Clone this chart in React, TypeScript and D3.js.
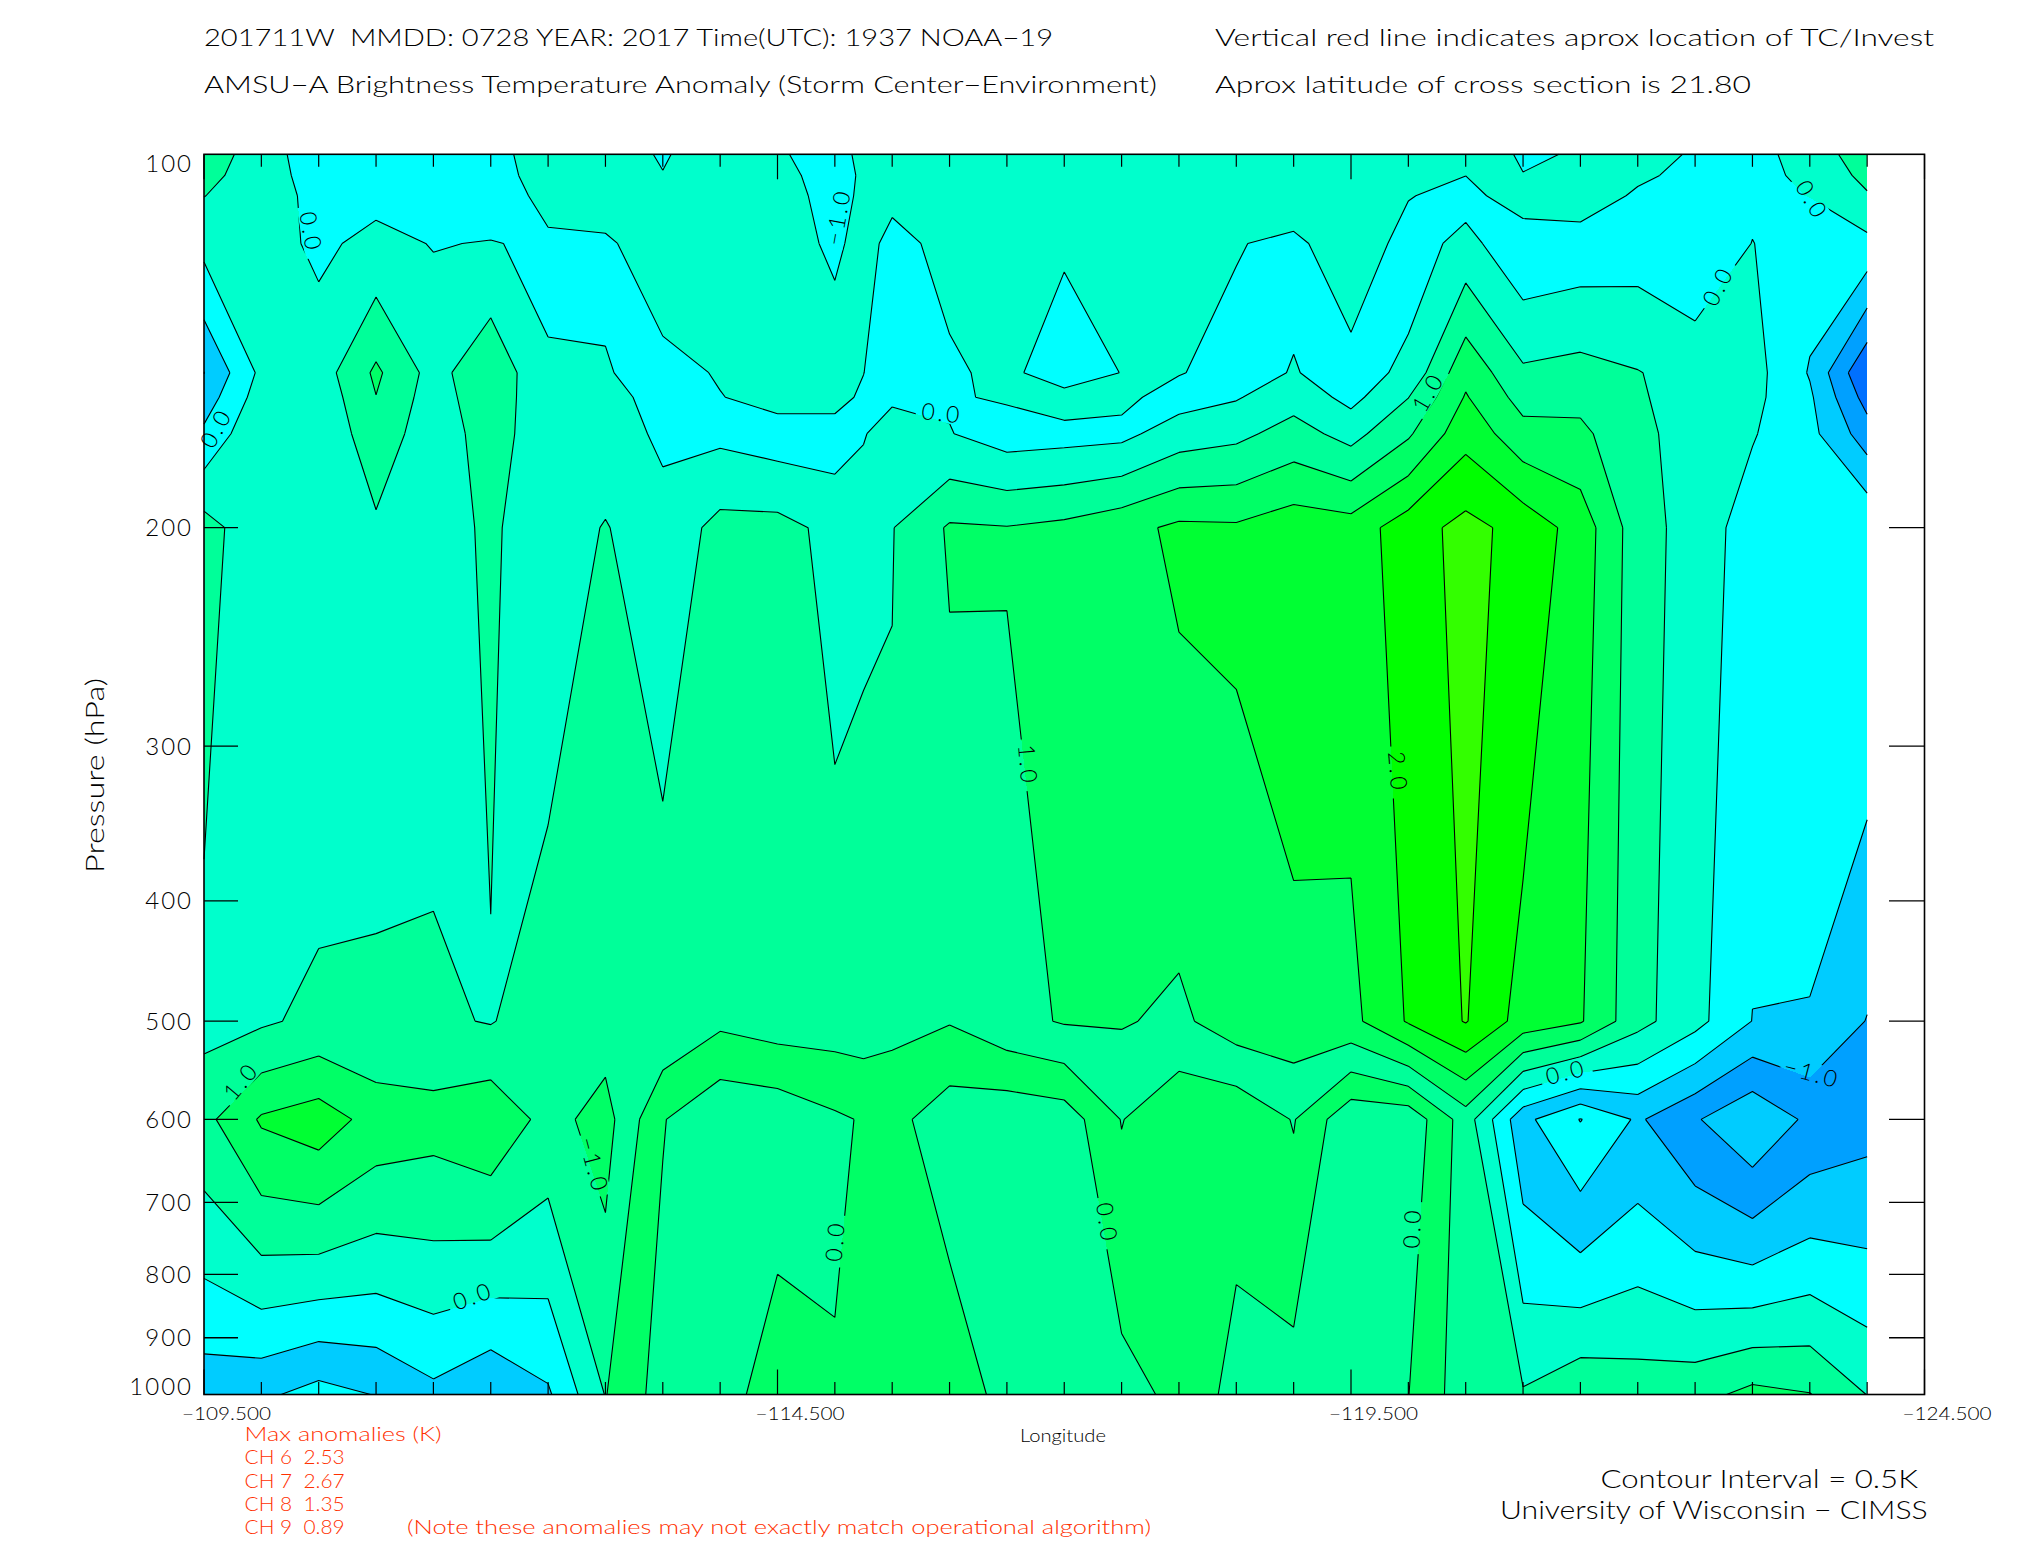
import React from "react";
import * as d3 from "d3";

const pressureLevels = [100, 104, 108, 118, 150, 157, 168, 200, 500, 600, 1000];
const longitudes = [-109.5, -110, -110.5, -111, -111.5, -112, -112.5, -113, -113.5, -114, -114.5, -115, -115.25, -115.5, -116, -116.5, -117, -117.5, -118, -118.5, -119, -119.5, -120, -120.5, -121, -121.5, -122, -122.5, -123, -123.5, -124];

const t100 = [.80,.234,-.286,-.35,-.25,-.3,.45,.3,-.06,.35,.05,-.19,.13,.45,.42,.45,.45,.42,.42,.42,.42,.45,.3,.05,-.01,.006,.3,-.085,-.12,.15,.85];
const t104 = [.655,.227,-.208,-.24,-.185,-.275,.29,.36,.02,.35,.135,-.19,.07,.325,.42,.45,.45,.41,.42,.36,.435,.45,.165,.005,.002,.18,.105,-.17,-.11,.08,.65];
const t108 = [.51,.22,-.13,-.13,-.12,-.25,.13,.42,.1,.35,.22,-.19,.1,.2,.42,.45,.45,.4,.42,.3,.45,.45,.03,-.2,.35,.35,-.09,-.25,-.1,.01,.45];
const t118 = [.15,.2,-.09,.13,-.02,.02,-.07,-.12,.45,.3,.42,-.16,.3,-.25,.25,.45,.12,.3,.35,.04,-.16,.45,-.25,.165,-.4,-.3,-.23,-.4,.01,-.25,-.14];
const t150 = [-1.01,.12,.24,1.09,.31,.90,.03,.035,-.2,.05,.45,.45,.01,-.46,-.12,.2,-.48,.02,.03,-.21,.03,-.23,.12,1.36,.58,.67,.52,.3,.19,-.54,-1.97];
const t157 = [-.77,.25,.145,.99,.25,.85,.07,.13,-.14,-.02,.2,.2,-.1,-.13,-.05,.06,.3,.12,-.21,-.04,.31,-.15,.49,1.54,.81,.86,.55,.3,.13,-.42,-1.7];
const t168 = [-.40,.45,.03,.85,.15,.78,.11,.22,-.08,-.11,-.25,-.25,-.05,.37,.02,-.23,-.18,-.13,.25,.38,.69,.33,.93,1.83,1.18,1.11,.62,.29,.035,-.35,-1.26];
const t200 = [.71,.13,.05,.41,.32,.57,.22,.53,.16,.66,.66,.36,.42,.48,1.06,1.02,1.12,1.33,1.6,1.57,1.79,1.72,2.27,2.66,2.32,1.79,.72,.28,-.24,-.25,-.02];
const t500 = [.34,.43,.62,.53,.58,.47,.79,.77,.93,.6,.74,.74,.76,.63,.53,.84,1.04,1.04,.9,1.27,1.32,1.36,2.05,2.53,1.8,1.55,.66,.16,-.51,-.52,-1.02];
const t600 = [.85,1.56,1.76,1.31,1.19,1.39,.83,1.19,.03,-.45,-.37,-.08,.04,.16,-.3,-.38,-.28,.52,.08,.07,.53,-.38,-.36,.75,-.86,-1.52,-.93,-1.45,-1.93,-1.39,-1.18];
const t1000 = [-.80,-.90,-1.19,-.98,-.63,-.97,-.57,.52,-.22,-.31,.37,.04,.22,.4,.36,-.2,-.15,-.19,.13,-.06,-.22,-.2,-.01,.8,.55,.9,.77,.83,1.14,1.02,.49];
const grid = [t100, t104, t108, t118, t150, t157, t168, t200, t500, t600, t1000];

const levels = [-99, -1.5, -1, -0.5, 0, 0.5, 1, 1.5, 2, 2.5];
const levelColors = ["#0070ff", "#00a0ff", "#00ccff", "#00ffff", "#00ffcc", "#00ff99", "#00ff66", "#00ff33", "#00ff00", "#33ff00"];

// Closed lows that the original plot shades with a lighter colour: level, column, row, colour
const closedLows: [number, number, number, string][] = [
  [0.5, 10, 9, "#00ff66"],
  [0, 9, 9, "#00ff99"],
  [0, 15, 9, "#00ff99"],
  [0, 21, 9, "#00ff99"],
  [-1, 2, 10, "#00ffff"],
  [-1, 25, 9, "#00ffff"],
  [-1.5, 25, 9, "#00ccff"],
  [-1.5, 28, 9, "#00ccff"],
];

const yTickValues = [100, 200, 300, 400, 500, 600, 700, 800, 900, 1000];
const xLabelValues = [-109.5, -114.5, -119.5, -124.5];
const contourLabels: [string, number, number, number][] = [
  ["0.0", 311, 232, 80],
  ["0.0", 216, 428, -61],
  ["−1.0", 838, 217, -80],
  ["0.0", 942, 413, 6],
  ["1.0", 1428, 392, -60],
  ["0.0", 1812, 200, 60],
  ["0.0", 1718, 286, -63],
  ["1.0", 241, 1081, -50],
  ["−1.0", 594, 1165, 75],
  ["0.0", 473, 1296, -20],
  ["0.0", 835, 1241, -85],
  ["0.0", 1107, 1223, 82],
  ["0.0", 1412, 1228, -88],
  ["0.0", 1566, 1072, -15],
  ["−1.0", 1812, 1073, 15],
  ["1.0", 1028, 765, 85],
  ["2.0", 1398, 772, 85],
];

const FONT = "Lato, 'Open Sans', sans-serif";
const RED = "#ff3000";
const TOP = 154.3;
const BOTTOM = 1394.5;

const xScale = d3.scaleLinear().domain([-109.5, -124.5]).range([204, 1924.5]);
const yScale = d3.scaleLog().domain([100, 1000]).range([TOP, BOTTOM]);
const rowToP = d3.scaleLinear().domain(pressureLevels.map((_, i) => i)).range(pressureLevels);
const colToLon = d3.scaleLinear().domain(longitudes.map((_, i) => i)).range(longitudes);

const nx = longitudes.length;
const ny = pressureLevels.length;
const flat = grid.flat();
const flatNeg = flat.map((v) => -v);
const contours = d3.contours().size([nx, ny]).smooth(true);

const clampTo = (v: number, hi: number) => Math.max(0, Math.min(hi, v));
const px = (p: number[]) => xScale(colToLon(clampTo(p[0] - 0.5, nx - 1)));
const py = (p: number[]) => yScale(rowToP(clampTo(p[1] - 0.5, ny - 1)));

function ringPath(r: number[][]) {
  return "M" + r.map((p) => `${px(p).toFixed(2)},${py(p).toFixed(2)}`).join("L") + "Z";
}
function polyPath(poly: number[][][]) {
  return poly.map(ringPath).join("");
}
function linePath(level: number) {
  const c = contours.contour(flat, level);
  let d = "";
  for (const poly of c.coordinates as number[][][][]) {
    for (const ring of poly) {
      for (let i = 0; i + 1 < ring.length; i++) {
        const a = ring[i], b = ring[i + 1];
        const ax = clampTo(a[0] - 0.5, nx - 1), ay = clampTo(a[1] - 0.5, ny - 1);
        const bx = clampTo(b[0] - 0.5, nx - 1), by = clampTo(b[1] - 0.5, ny - 1);
        if ((ax === bx && (ax === 0 || ax === nx - 1)) || (ay === by && (ay === 0 || ay === ny - 1))) continue;
        d += `M${px(a).toFixed(2)},${py(a).toFixed(2)}L${px(b).toFixed(2)},${py(b).toFixed(2)}`;
      }
    }
  }
  return d;
}

function T(props: { x: number; y: number; w: number; size: number; fill?: string; children: string }) {
  return (
    <text x={props.x} y={props.y} fontSize={props.size} fontFamily={FONT} fontWeight={300}
      fill={props.fill ?? "#000"} textLength={props.w} lengthAdjust="spacingAndGlyphs" xmlSpace="preserve">
      {props.children}
    </text>
  );
}

export default function App() {
  const minorLons = d3.range(0, 31).map((i) => -109.5 - i * 0.5);
  const fills = levels.map((lv, i) => {
    const c = contours.contour(flat, lv);
    return <path key={i} d={(c.coordinates as number[][][][]).map(polyPath).join("")} fill={levelColors[i]} fillRule="evenodd" shapeRendering="crispEdges" />;
  });
  const patches = closedLows.map(([lv, col, row, color], i) => {
    const c = contours.contour(flatNeg, -lv);
    const polys = (c.coordinates as number[][][][]).filter((poly) => d3.polygonContains(poly[0] as any, [col + 0.5, row + 0.5]));
    return <path key={i} d={polys.map(polyPath).join("")} fill={color} fillRule="evenodd" shapeRendering="crispEdges" />;
  });
  return (
    <svg width={2025} height={1550} style={{ position: "absolute", left: 0, top: 0, display: "block", background: "#fff" }}>
      <defs>
        <mask id="gaps" maskUnits="userSpaceOnUse" x={0} y={0} width={2025} height={1550}>
          <rect x={0} y={0} width={2025} height={1550} fill="#fff" />
          {contourLabels.map(([s, x, y, a], i) => (
            <rect key={i} x={-(s.length > 3 ? 32 : 26)} y={-10} width={s.length > 3 ? 64 : 52} height={20} fill="#000" transform={`translate(${x},${y}) rotate(${a})`} />
          ))}
        </mask>
      </defs>
      {fills}
      {patches}
      <g mask="url(#gaps)" fill="none" stroke="#000" strokeWidth={1.1}>
        {levels.slice(1).map((lv) => <path key={lv} d={linePath(lv)} />)}
      </g>
      {contourLabels.map(([s, x, y, a], i) => (
        <text key={i} transform={`translate(${x},${y}) rotate(${a})`} textAnchor="middle" dy="0.36em" fontSize={23} letterSpacing={3} fontFamily={FONT} fontWeight={300} fill="#000">{s}</text>
      ))}
      {/* frame and ticks */}
      <rect x={204} y={TOP} width={1720.5} height={BOTTOM - TOP} fill="none" stroke="#000" strokeWidth={1.6} />
      {yTickValues.slice(1, -1).map((p) => (
        <g key={p} stroke="#000" strokeWidth={1.3}>
          <line x1={204} x2={238} y1={yScale(p)} y2={yScale(p)} />
          <line x1={1889} x2={1924.5} y1={yScale(p)} y2={yScale(p)} />
        </g>
      ))}
      {minorLons.map((lon) => {
        const major = (Math.abs(lon + 109.5) % 5) === 0;
        const len = major ? 25 : 12.5;
        const x = xScale(lon);
        return (
          <g key={lon} stroke="#000" strokeWidth={1.2}>
            <line x1={x} x2={x} y1={TOP} y2={TOP + len} />
            <line x1={x} x2={x} y1={BOTTOM} y2={BOTTOM - len} />
          </g>
        );
      })}
      {/* axis labels */}
      {yTickValues.map((p) => {
        const y = p === 100 ? 172 : p === 1000 ? BOTTOM : yScale(p) + 8.5;
        return <text key={p} x={193} y={y} textAnchor="end" fontSize={24} fontFamily={FONT} fontWeight={300} letterSpacing={2}>{p}</text>;
      })}
      {xLabelValues.map((lon) => (
        <T key={lon} x={xScale(lon) - 22} y={1420} w={89} size={18}>{"−" + Math.abs(lon).toFixed(3)}</T>
      ))}
      <T x={1020} y={1441.8} w={86} size={18}>Longitude</T>
      <text transform="translate(104,873) rotate(-90)" fontSize={26} fontFamily={FONT} fontWeight={300} textLength={195} lengthAdjust="spacingAndGlyphs">Pressure (hPa)</text>
      {/* titles */}
      <T x={204} y={45.7} w={849} size={24}>201711W  MMDD: 0728 YEAR: 2017 Time(UTC): 1937 NOAA−19</T>
      <T x={204} y={92.7} w={953} size={24}>AMSU−A Brightness Temperature Anomaly (Storm Center−Environment)</T>
      <T x={1215} y={45.7} w={719} size={24}>Vertical red line indicates aprox location of TC/Invest</T>
      <T x={1215} y={92.7} w={536} size={24}>Aprox latitude of cross section is 21.80</T>
      {/* notes */}
      <T x={244.6} y={1441} w={197} size={20} fill={RED}>Max anomalies (K)</T>
      <T x={244.6} y={1464.4} w={100} size={20} fill={RED}>CH 6  2.53</T>
      <T x={244.6} y={1487.6} w={100} size={20} fill={RED}>CH 7  2.67</T>
      <T x={244.6} y={1510.9} w={100} size={20} fill={RED}>CH 8  1.35</T>
      <T x={244.6} y={1533.8} w={100} size={20} fill={RED}>CH 9  0.89</T>
      <T x={407} y={1533.8} w={744} size={20} fill={RED}>(Note these anomalies may not exactly match operational algorithm)</T>
      <T x={1600.4} y={1488} w={317.6} size={26}>Contour Interval = 0.5K</T>
      <T x={1500} y={1519.3} w={427.7} size={26}>University of Wisconsin − CIMSS</T>
    </svg>
  );
}
